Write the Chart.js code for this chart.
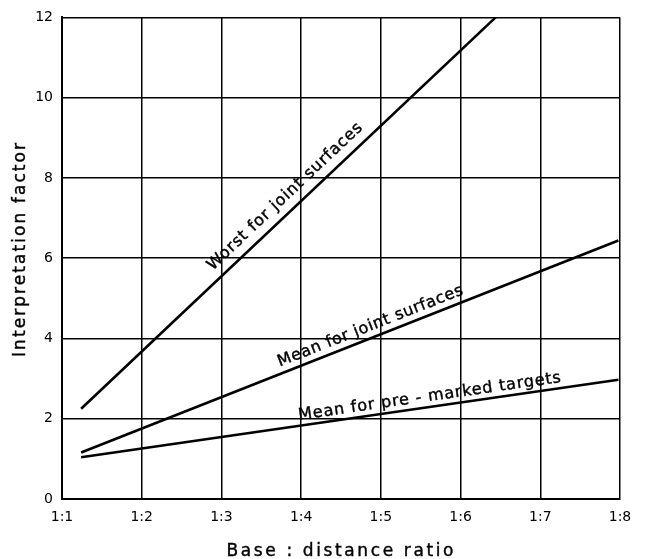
<!DOCTYPE html>
<html>
<head>
<meta charset="utf-8">
<script src="https://cdn.jsdelivr.net/npm/chart.js@4"></script>
<style>
html,body{margin:0;padding:0;background:#fff;}
#wrap{width:645px;height:559px;}
</style>
</head>
<body>
<div id="wrap"><canvas id="c" width="645" height="559"></canvas></div>
<script>
// Data
const xTicks = [1, 2, 3, 4, 5, 6, 7, 8];
const xTickLabels = ["1:1", "1:2", "1:3", "1:4", "1:5", "1:6", "1:7", "1:8"];
const yTicks = [0, 2, 4, 6, 8, 10, 12];
const seriesNames = ["Worst for joint surfaces", "Mean for joint surfaces", "Mean for pre - marked targets"];
const worstX = [1.24, 6.44];
const worstY = [2.25, 12];
const meanJointX = [1.24, 7.98];
const meanJointY = [1.16, 6.44];
const preMarkedX = [1.24, 7.98];
const preMarkedY = [1.04, 2.97];
// label centre positions along each line (x value)
const labelAt = [3.92, 4.92, 5.63];

function pts(xs, ys){ return xs.map((x,i)=>({x:x, y:ys[i]})); }

const FONT = '"DejaVu Sans", sans-serif';

// draw text with letter spacing so that it spans `width` pixels
function drawSpaced(ctx, text, cx, cy, angle, width, size){
  ctx.save();
  ctx.font = size + 'px ' + FONT;
  ctx.fillStyle = '#000';
  ctx.strokeStyle = '#000';
  ctx.lineWidth = 0.4;
  ctx.textAlign = 'left';
  ctx.textBaseline = 'alphabetic';
  ctx.letterSpacing = '0px';
  const w0 = ctx.measureText(text).width;
  const sp = Math.max(0, (width - w0) / (text.length - 1));
  ctx.letterSpacing = sp + 'px';
  ctx.translate(cx, cy);
  ctx.rotate(angle);
  ctx.fillText(text, -width / 2, 0);
  ctx.strokeText(text, -width / 2, 0);
  ctx.restore();
}

const annot = {
  id: 'annot',
  afterDatasetsDraw(chart){
    const ctx = chart.ctx;
    const xs = chart.scales.x, ys = chart.scales.y;
    const sets = [[worstX, worstY, 207, 10], [meanJointX, meanJointY, 198, 7], [preMarkedX, preMarkedY, 265, 6]];
    sets.forEach((s, i) => {
      const x0 = xs.getPixelForValue(s[0][0]), y0 = ys.getPixelForValue(s[1][0]);
      const x1 = xs.getPixelForValue(s[0][1]), y1 = ys.getPixelForValue(s[1][1]);
      const ang = Math.atan2(y1 - y0, x1 - x0);
      const r = labelAt[i];
      const t = (r - s[0][0]) / (s[0][1] - s[0][0]);
      const yv = s[1][0] + t * (s[1][1] - s[1][0]);
      const px = xs.getPixelForValue(r), py = ys.getPixelForValue(yv);
      const gap = s[3];
      const nx = Math.sin(ang), ny = -Math.cos(ang);
      drawSpaced(ctx, seriesNames[i], px + nx * gap, py + ny * gap, ang, s[2], 16);
    });
    // axis titles
    drawSpaced(ctx, 'Interpretation factor', 25, 250, -Math.PI/2, 214, 17);
    drawSpaced(ctx, 'Base : distance ratio', 340, 556, 0, 227, 17);
  }
};

const gridCommon = { color: '#000', lineWidth: 1.5, drawTicks: false };

new Chart(document.getElementById('c'), {
  type: 'line',
  data: {
    datasets: [
      { label: seriesNames[0], data: pts(worstX, worstY) },
      { label: seriesNames[1], data: pts(meanJointX, meanJointY) },
      { label: seriesNames[2], data: pts(preMarkedX, preMarkedY) }
    ].map(d => Object.assign(d, { borderColor: '#000', borderWidth: 2.6, pointRadius: 0, fill: false, tension: 0 }))
  },
  options: {
    responsive: false,
    animation: false,
    devicePixelRatio: 1,
    layout: { padding: { left: 0, right: 25, top: 13, bottom: 0 } },
    plugins: { legend: { display: false }, tooltip: { enabled: false } },
    scales: {
      x: {
        type: 'linear', min: 1, max: 8,
        afterBuildTicks(scale){ scale.ticks = xTicks.map(v => ({ value: v })); },
        afterFit(scale){ scale.height = 60; },
        ticks: {
          padding: 10, color: '#000', maxRotation: 0, autoSkip: false,
          font: { family: FONT, size: 14 },
          callback: (v) => { const i = xTicks.indexOf(v); return i >= 0 ? xTickLabels[i] : ''; }
        },
        grid: gridCommon,
        border: { color: '#000', width: 2 }
      },
      y: {
        type: 'linear', min: 0, max: 12,
        afterBuildTicks(scale){ scale.ticks = yTicks.map(v => ({ value: v })); },
        afterFit(scale){ scale.width = 62; },
        ticks: { padding: 9, color: '#000', font: { family: FONT, size: 14 } },
        grid: gridCommon,
        border: { color: '#000', width: 2 }
      }
    }
  },
  plugins: [annot]
});
</script>
</body>
</html>
